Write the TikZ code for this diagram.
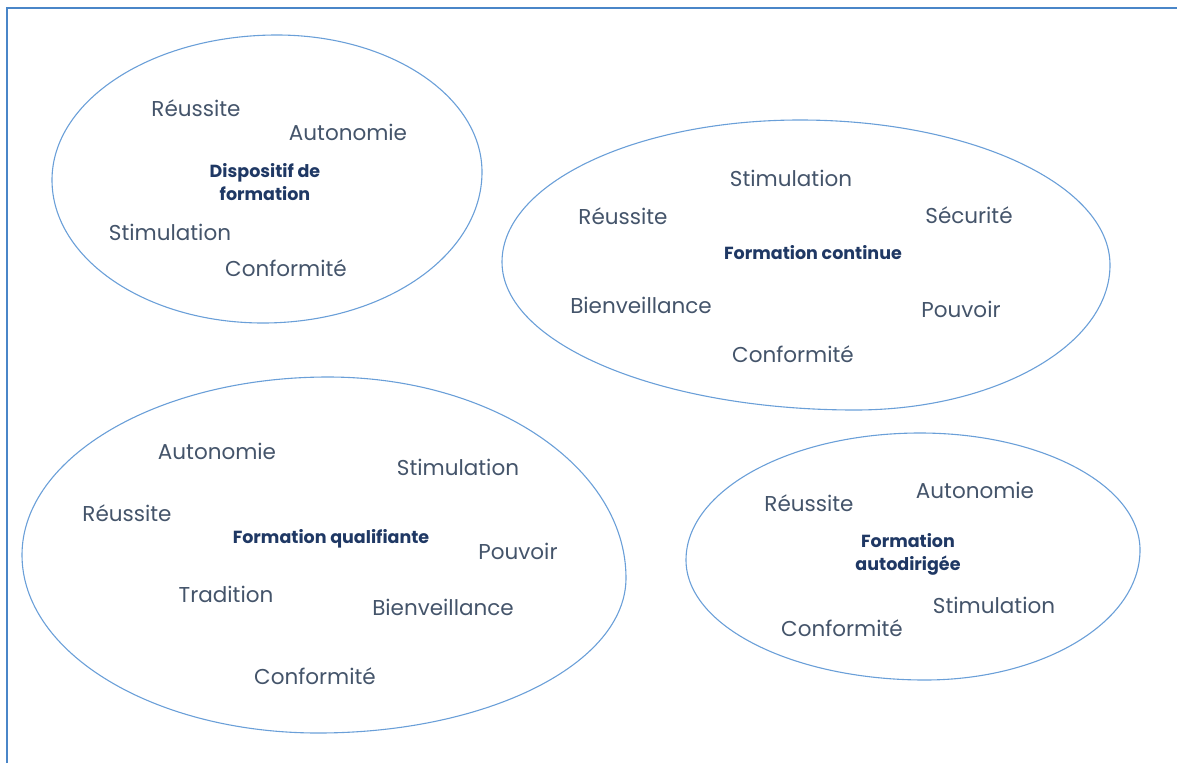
\documentclass[tikz,border=0pt]{standalone}
\usepackage{fontspec}
\setmainfont{Poppins}
\usetikzlibrary{calc}
\definecolor{framec}{HTML}{4A86C8}
\definecolor{blobc}{HTML}{6A9FD8}
\definecolor{wordc}{HTML}{44546A}
\definecolor{titlec}{HTML}{1F3864}
\tikzset{
  word/.style={text=wordc,font=\fontsize{21.5}{24}\selectfont,inner sep=0pt},
  title/.style={text=titlec,font=\fontsize{17.5}{23}\selectfont\bfseries,align=center,inner sep=0pt},
  blob/.style={draw=blobc,line width=1.1pt},
  frameline/.style={draw=framec,line width=2pt}
}
\newcommand\eggpath[4]{(#1)
 .. controls ($(#1)!0.552!(#2|-#1)$) and ($(#2)!0.552!(#2|-#1)$) .. (#2)
 .. controls ($(#2)!0.552!(#2|-#3)$) and ($(#3)!0.552!(#2|-#3)$) .. (#3)
 .. controls ($(#3)!0.552!(#4|-#3)$) and ($(#4)!0.552!(#4|-#3)$) .. (#4)
 .. controls ($(#4)!0.552!(#4|-#1)$) and ($(#1)!0.552!(#4|-#1)$) .. (#1) -- cycle}
\begin{document}
\begin{tikzpicture}[x=1pt,y=-1pt]
\useasboundingbox (0,0) rectangle (1177,763);
\draw[frameline] (7,763) -- (7,8) -- (1177,8);
% blob 1
\coordinate (t1) at (277,35);  \coordinate (r1) at (482,172);
\coordinate (b1) at (263,323); \coordinate (l1) at (52,180);
\draw[blob] \eggpath{t1}{r1}{b1}{l1};
% blob 2
\coordinate (t2) at (800,120);  \coordinate (r2) at (1110,265);
\coordinate (b2) at (855,410);  \coordinate (l2) at (502,262);
\draw[blob] \eggpath{t2}{r2}{b2}{l2};
% blob 3
\coordinate (t3) at (328,377);  \coordinate (r3) at (626,578);
\coordinate (b3) at (318,733);  \coordinate (l3) at (22,555);
\draw[blob] \eggpath{t3}{r3}{b3}{l3};
% blob 4
\coordinate (t4) at (920,433);  \coordinate (r4) at (1140,550);
\coordinate (b4) at (925,680);  \coordinate (l4) at (686,560);
\draw[blob] \eggpath{t4}{r4}{b4}{l4};
% texts blob 1
\node[word] (a1) at (196,108) {Réussite};
\node[word] (a2) at (348,132) {Autonomie};
\node[title] (a0) at (265,182) {Dispositif de\\formation};
\node[word] (a3) at (170,232) {Stimulation};
\node[word] (a4) at (286,268) {Conformité};
% texts blob 2
\node[word] (bb1) at (791,178) {Stimulation};
\node[word] (bb2) at (623,216) {Réussite};
\node[word] (bb3) at (969,215) {Sécurité};
\node[title] (bb0) at (813,253) {Formation continue};
\node[word] (bb4) at (641,305) {Bienveillance};
\node[word] (bb5) at (961,309) {Pouvoir};
\node[word] (bb6) at (793,354) {Conformité};
% texts blob 3
\node[word] (c1) at (217,451) {Autonomie};
\node[word] (c2) at (458,467) {Stimulation};
\node[word] (c3) at (127,513) {Réussite};
\node[title] (c0) at (331,539) {Formation qualifiante};
\node[word] (c4) at (518,551) {Pouvoir};
\node[word] (c5) at (226,594) {Tradition};
\node[word] (c6) at (443,607) {Bienveillance};
\node[word] (c7) at (315,676) {Conformité};
% texts blob 4
\node[word] (d1) at (809,503) {Réussite};
\node[word] (d2) at (975,490) {Autonomie};
\node[title] (d0) at (908,554) {Formation\\autodirigée};
\node[word] (d3) at (994,605) {Stimulation};
\node[word] (d4) at (842,628) {Conformité};
\end{tikzpicture}
\end{document}
